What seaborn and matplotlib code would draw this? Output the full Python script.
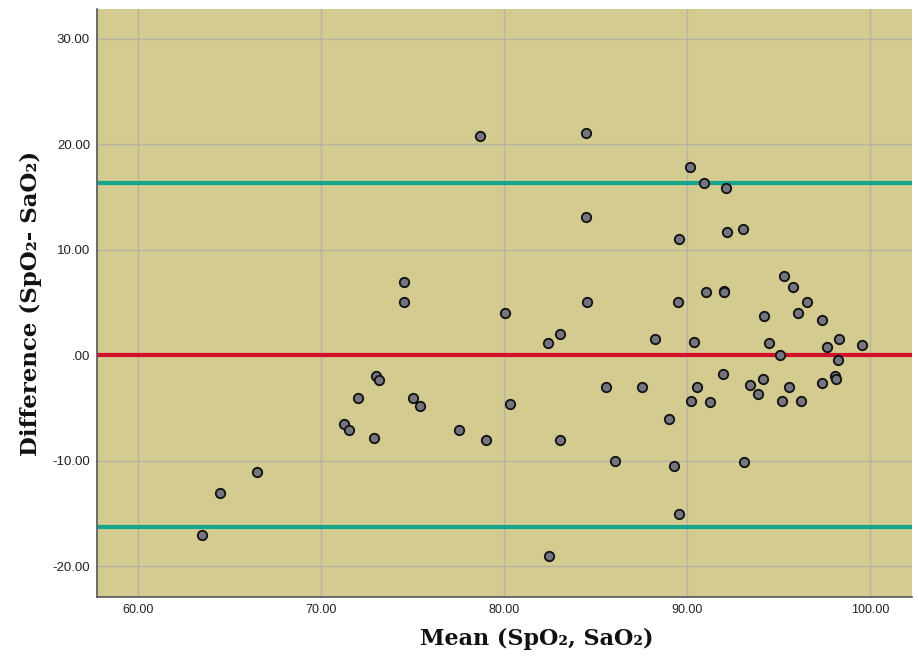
import matplotlib
matplotlib.use("Agg")
import matplotlib.pyplot as plt
import seaborn as sns
import pandas as pd

# Data
mean_vals = [63.5, 64.49, 66.49, 71.25, 71.5, 72.9, 72.0, 73.0, 73.16, 74.51,
             74.51, 75.02, 75.42, 77.53, 78.67, 79.02, 80.04, 80.31, 82.42, 82.44,
             83.04, 83.04, 84.5, 84.5, 84.55, 85.55, 86.04, 87.55, 88.24, 89.04,
             89.31, 89.49, 89.55, 89.55, 90.15, 90.2, 90.4, 90.55, 90.95, 91.04,
             91.28, 91.95, 92.0, 92.05, 92.15, 92.2, 93.06, 93.09, 93.46, 93.88,
             94.17, 94.2, 94.46, 95.06, 95.2, 95.31, 95.59, 95.82, 96.06, 96.22,
             96.57, 97.37, 97.39, 97.68, 98.08, 98.17, 98.28, 98.31, 99.57]
diff_vals = [-17.06, -13.05, -11.06, -6.54, -7.05, -7.8, -4.01, -1.99, -2.34, 6.98,
             5.0, -4.01, -4.8, -7.05, 20.76, -8.03, 4.01, -4.61, 1.17, -19.05,
             1.99, -8.03, 21.04, 13.08, 5.0, -3.0, -10.0, -3.0, 1.58, -6.03,
             -10.52, 5.09, 11.0, -15.04, 17.82, -4.33, 1.3, -3.0, 16.27, 6.0,
             -4.42, -1.8, 6.1, 6.0, 15.8, 11.72, 12.0, -10.14, -2.78, -3.63,
             -2.21, 3.73, 1.2, 0.0, -4.33, 7.49, -3.0, 6.51, 4.01, -4.33,
             5.0, 3.38, -2.62, 0.76, -1.99, -2.24, -0.41, 1.52, 1.01]
mean_diff = 0.0
upper_loa = 16.3
lower_loa = -16.3

x_ticks = [60, 70, 80, 90, 100]
x_tick_labels = ["60.00", "70.00", "80.00", "90.00", "100.00"]
y_ticks = [-20, -10, 0, 10, 20, 30]
y_tick_labels = ["-20.00", "-10.00", ".00", "10.00", "20.00", "30.00"]

df = pd.DataFrame({"mean": mean_vals, "diff": diff_vals})

sns.set_theme(style="whitegrid")
plt.rcParams["font.family"] = ["DejaVu Sans"]

fig = plt.figure(figsize=(9.18, 6.59), dpi=100)
ax = fig.add_axes([97/918, 1 - 597/659, (912-97)/918, (597-9)/659])
ax.set_facecolor("#D3CB8F")

ax.axhline(upper_loa, color="#17A48C", lw=3, zorder=2)
ax.axhline(lower_loa, color="#17A48C", lw=3, zorder=2)
ax.axhline(mean_diff, color="#D2102C", lw=3, zorder=2)

sns.scatterplot(data=df, x="mean", y="diff", ax=ax, s=46, color="#75757F",
                edgecolor="#111111", linewidth=1.3, zorder=3, legend=False)

ax.set_xlim(57.75, 102.3)
ax.set_ylim(-22.9, 32.8)
ax.set_xticks(x_ticks)
ax.set_xticklabels(x_tick_labels, family=["Liberation Sans Narrow", "Liberation Sans", "DejaVu Sans"],
                   fontsize=9, color="#222222")
ax.set_yticks(y_ticks)
ax.set_yticklabels(y_tick_labels, family=["Liberation Sans", "DejaVu Sans"], fontsize=9.5, color="#222222")
ax.grid(True, color="#B5B3A8", lw=1.0)
ax.set_axisbelow(True)
ax.tick_params(axis="x", pad=5, length=0)
ax.tick_params(axis="y", pad=5, length=0)

for side in ["top", "right"]:
    ax.spines[side].set_visible(False)
for side in ["left", "bottom"]:
    ax.spines[side].set_color("#555555")
    ax.spines[side].set_linewidth(1.2)

ax.set_xlabel("Mean (SpO\u2082, SaO\u2082)", family=["DejaVu Serif"], fontweight="bold",
              fontsize=16, color="#111111")
ax.set_ylabel("Difference (SpO\u2082- SaO\u2082)", family=["DejaVu Serif"], fontweight="bold",
              fontsize=16.5, color="#111111")
ax.xaxis.set_label_coords(0.539, -0.052)
ax.yaxis.set_label_coords(-0.068, 0.5)

fig.savefig("out.png", dpi=100, facecolor="white")
